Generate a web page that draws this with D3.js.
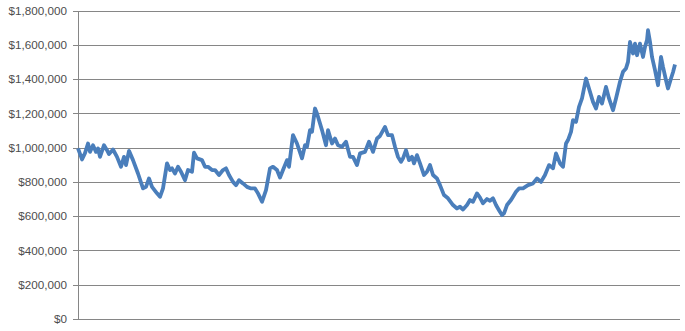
<!DOCTYPE html>
<html>
<head>
<meta charset="utf-8">
<script src="https://cdn.jsdelivr.net/npm/d3@7"></script>
<style>
	body { margin: 0; background: #ffffff; }
	svg { display: block; }
	.tick text { font-family: "Liberation Sans", Arial, sans-serif; font-size: 11.7px; fill: #4d4d4d; }
</style>
</head>
<body>
<svg width="685" height="331"></svg>
<script>
const days = [0,4,7,10,12,15,18,20,22,26,29,31,35,39,43,46,48,51,55,60,65,68,71,74,79,82,85,89,92,94,97,100,103,107,110,114,116,119,124,127,130,134,137,141,145,148,151,155,158,161,165,169,173,177,180,184,188,192,195,199,202,205,209,211,215,219,224,227,229,232,234,237,239,244,248,250,254,257,260,264,268,272,275,279,282,287,291,295,299,302,307,310,314,317,320,323,325,328,331,334,336,339,342,346,349,352,355,359,362,366,370,375,379,382,385,389,392,395,399,402,405,409,412,415,418,421,424,426,429,433,435,438,441,445,450,455,459,463,467,471,475,478,482,485,488,490,493,495,498,501,504,508,511,515,518,521,524,528,531,535,538,542,545,548,550,552,555,557,559,562,565,567,569,570,572,574,577,580,583,585,588,590,593,595,597,599,601];
const values = [995,931,968,1024,975,1014,975,995,946,1014,985,962,989,946,888,946,898,981,927,849,762,771,820,771,733,713,762,908,869,879,849,888,859,810,869,859,970,937,927,888,888,869,869,840,869,879,840,800,781,810,791,771,762,762,733,684,752,879,888,869,825,869,927,888,1073,1024,937,1014,1005,1102,1092,1228,1199,1102,1014,1102,1024,1053,1014,1005,1034,946,946,898,966,975,1034,975,1053,1068,1121,1073,1073,1005,946,917,937,985,927,946,908,956,908,840,859,898,840,820,781,723,704,665,645,655,639,665,694,684,733,708,675,700,690,704,665,635,606,616,665,694,713,742,762,762,781,791,820,800,840,898,879,966,908,888,1024,1044,1092,1160,1150,1238,1287,1403,1345,1267,1228,1296,1257,1354,1287,1218,1287,1384,1442,1462,1500,1617,1549,1607,1539,1607,1529,1588,1627,1685,1617,1529,1452,1364,1529,1471,1393,1345,1403,1440,1485];
const yTicks = [0,200000,400000,600000,800000,1000000,1200000,1400000,1600000,1800000];

const holder={
	"margin":{"top":10.5,"right":5,"bottom":12,"left":78},
	"lineColor":"#4a7ebb",
	"gridColor":"#868686",
	"svg":null
};

function start() {
	holder.svg = d3.select("svg");
	const m = holder.margin;
	const w = +holder.svg.attr("width") - m.left - m.right;
	const h = +holder.svg.attr("height") - m.top - m.bottom;
	const g = holder.svg.append("g").attr("transform", "translate(" + m.left + "," + m.top + ")");

	const x = d3.scaleLinear().domain([0, 602]).range([0, w]);
	const y = d3.scaleLinear().domain([0, 1800000]).range([h, 0]);

	drawGrid(g, y, w);
	drawAxis(g, y);

	const pts = days.map((d, i) => ({ "day": d, "value": values[i] * 1000 }));
	const line = d3.line()
		.x(d => x(d.day))
		.y(d => y(d.value));
	g.append("path")
		.datum(pts)
		.attr("fill", "none")
		.attr("stroke", holder.lineColor)
		.attr("stroke-width", 3.8)
		.attr("stroke-linejoin", "round")
		.attr("d", line);
	return;
}

function drawGrid(g, y, w) {
	const grid = g.append("g")
		.call(d3.axisLeft(y).tickValues(yTicks).tickSize(-w).tickFormat(""));
	grid.select(".domain").remove();
	grid.selectAll("line").attr("stroke", holder.gridColor).attr("shape-rendering", "crispEdges");
	return;
}

function drawAxis(g, y) {
	const ax = g.append("g")
		.call(d3.axisLeft(y).tickValues(yTicks).tickSize(5).tickPadding(6).tickFormat(d3.format("$,")));
	ax.select(".domain").attr("stroke", holder.gridColor).attr("d", "M0," + y(1800000) + "V" + y(0)).attr("shape-rendering", "crispEdges");
	ax.selectAll("line").attr("stroke", holder.gridColor).attr("shape-rendering", "crispEdges");
	return;
}

start();
</script>
</body>
</html>
